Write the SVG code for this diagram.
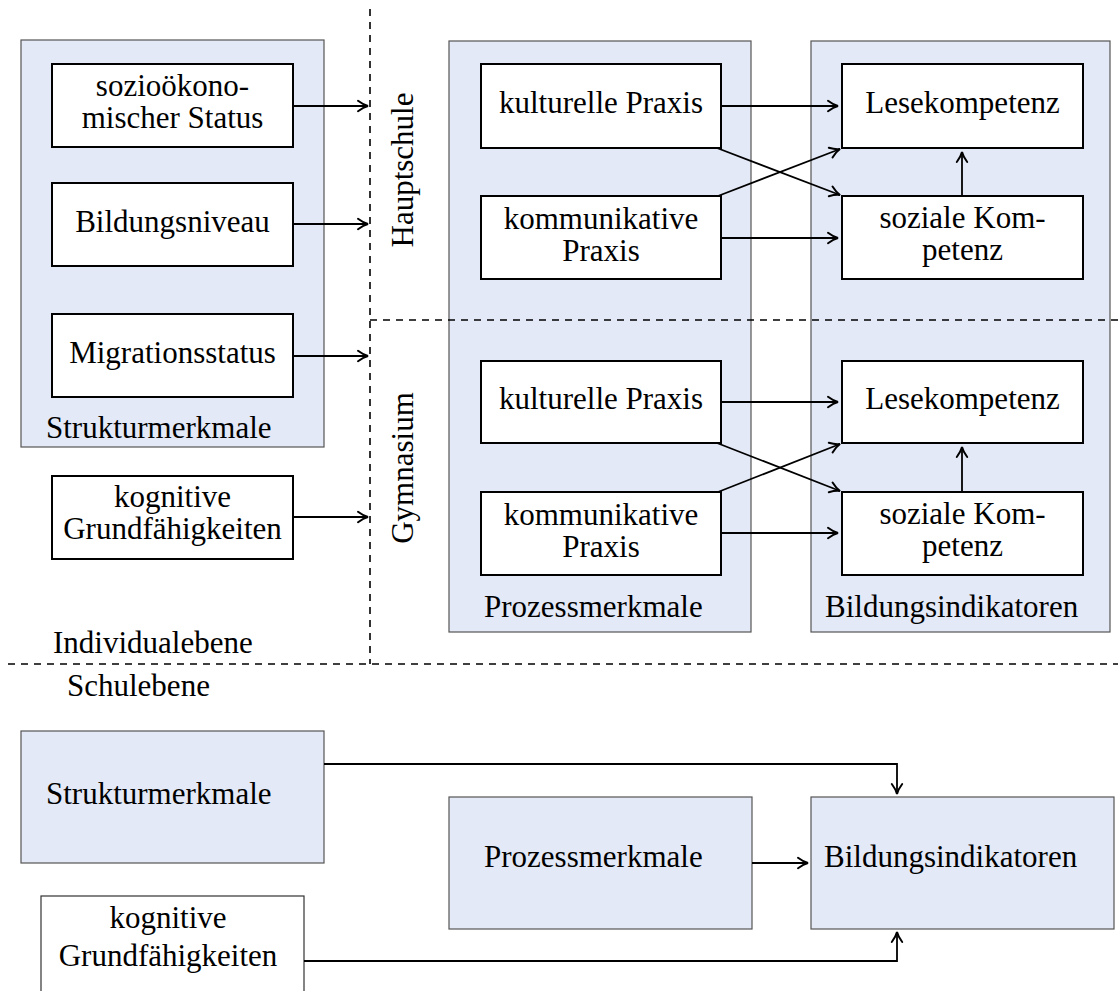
<svg xmlns="http://www.w3.org/2000/svg" width="1118" height="991" viewBox="0 0 1118 991">
  <style>
    text { font-family: "Liberation Serif", "Times New Roman", serif; font-size: 31px; fill: #000; }
    .mid { text-anchor: middle; }
    .group { fill: #E4E9F7; stroke: #555; stroke-width: 1.2; }
    .item { fill: #fff; stroke: #000; stroke-width: 2; }
    .edge { fill: none; stroke: #000; stroke-width: 1.8; marker-end: url(#tip); }
    .sep { fill: none; stroke: #000; stroke-width: 1.6; stroke-dasharray: 7 6; }
  </style>
  <defs>
    <marker id="tip" markerUnits="userSpaceOnUse" markerWidth="16" markerHeight="14" viewBox="-12 -7 14 14" refX="0" refY="0" orient="auto">
      <path d="M-10,-5.2 C-6,-2.2 -2.5,-0.6 0,0 C-2.5,0.6 -6,2.2 -10,5.2" fill="none" stroke="#000" stroke-width="2" stroke-linecap="round"/>
    </marker>
  </defs>

  <!-- individual level: group frames -->
  <g id="struktur-ind">
    <rect class="group" x="21" y="40" width="303" height="407"/>
    <text x="46" y="438">Strukturmerkmale</text>
  </g>
  <g id="prozess-ind">
    <rect class="group" x="449" y="41" width="302" height="591"/>
    <text x="484" y="617">Prozessmerkmale</text>
  </g>
  <g id="bildung-ind">
    <rect class="group" x="811" y="41" width="299" height="591"/>
    <text x="825" y="617">Bildungsindikatoren</text>
  </g>

  <!-- level separators, drawn over the frames -->
  <g id="separators">
    <line class="sep" x1="370" y1="9" x2="370" y2="664"/>
    <line class="sep" x1="370" y1="320" x2="1118" y2="320"/>
    <line class="sep" x1="8" y1="664" x2="1118" y2="664"/>
  </g>

  <!-- individual level: structural items -->
  <g id="sozio">
    <rect class="item" x="52" y="64" width="241" height="83"/>
    <text class="mid" x="172.5" y="96">sozioökono-</text>
    <text class="mid" x="172.5" y="128">mischer Status</text>
  </g>
  <g id="bildungsniveau">
    <rect class="item" x="52" y="183" width="241" height="83"/>
    <text class="mid" x="172.5" y="232">Bildungsniveau</text>
  </g>
  <g id="migration">
    <rect class="item" x="52" y="314" width="241" height="83"/>
    <text class="mid" x="172.5" y="363">Migrationsstatus</text>
  </g>
  <g id="kognitiv-ind">
    <rect class="item" x="52" y="476" width="241" height="83"/>
    <text class="mid" x="172.5" y="507">kognitive</text>
    <text class="mid" x="172.5" y="539">Grundfähigkeiten</text>
  </g>

  <!-- school type labels -->
  <g id="hauptschule">
    <text class="mid" transform="translate(413,170) rotate(-90)">Hauptschule</text>
  </g>
  <g id="gymnasium">
    <text class="mid" transform="translate(413,468) rotate(-90)">Gymnasium</text>
  </g>

  <!-- Hauptschule items -->
  <g id="kultur-h">
    <rect class="item" x="481" y="64" width="240" height="84"/>
    <text class="mid" x="601" y="113">kulturelle Praxis</text>
  </g>
  <g id="komm-h">
    <rect class="item" x="481" y="196" width="240" height="83"/>
    <text class="mid" x="601" y="229">kommunikative</text>
    <text class="mid" x="601" y="261">Praxis</text>
  </g>
  <g id="lese-h">
    <rect class="item" x="842" y="64" width="241" height="84"/>
    <text class="mid" x="962.5" y="113">Lesekompetenz</text>
  </g>
  <g id="sozial-h">
    <rect class="item" x="842" y="196" width="241" height="83"/>
    <text class="mid" x="962.5" y="228">soziale Kom-</text>
    <text class="mid" x="962.5" y="260">petenz</text>
  </g>

  <!-- Gymnasium items -->
  <g id="kultur-g">
    <rect class="item" x="481" y="361" width="240" height="82"/>
    <text class="mid" x="601" y="409">kulturelle Praxis</text>
  </g>
  <g id="komm-g">
    <rect class="item" x="481" y="492" width="240" height="83"/>
    <text class="mid" x="601" y="525">kommunikative</text>
    <text class="mid" x="601" y="557">Praxis</text>
  </g>
  <g id="lese-g">
    <rect class="item" x="842" y="361" width="241" height="82"/>
    <text class="mid" x="962.5" y="409">Lesekompetenz</text>
  </g>
  <g id="sozial-g">
    <rect class="item" x="842" y="492" width="241" height="83"/>
    <text class="mid" x="962.5" y="524">soziale Kom-</text>
    <text class="mid" x="962.5" y="556">petenz</text>
  </g>

  <!-- level labels -->
  <g id="level-labels">
    <text x="53" y="653">Individualebene</text>
    <text x="67" y="696">Schulebene</text>
  </g>

  <!-- school level -->
  <g id="struktur-sch">
    <rect class="group" x="21" y="731" width="303" height="132"/>
    <text x="46" y="804">Strukturmerkmale</text>
  </g>
  <g id="prozess-sch">
    <rect class="group" x="449" y="797" width="303" height="132"/>
    <text x="484" y="867">Prozessmerkmale</text>
  </g>
  <g id="bildung-sch">
    <rect class="group" x="811" y="797" width="303" height="132"/>
    <text x="824" y="867">Bildungsindikatoren</text>
  </g>
  <g id="kognitiv-sch">
    <rect fill="#fff" stroke="#333" stroke-width="1.2" x="41" y="896" width="263" height="132"/>
    <text class="mid" x="168" y="928">kognitive</text>
    <text class="mid" x="168" y="966">Grundfähigkeiten</text>
  </g>

  <!-- connectors -->
  <g id="connectors">
    <line class="edge" x1="293" y1="106" x2="368" y2="106"/>
    <line class="edge" x1="293" y1="224" x2="368" y2="224"/>
    <line class="edge" x1="293" y1="356" x2="368" y2="356"/>
    <line class="edge" x1="293" y1="517" x2="368" y2="517"/>

    <line class="edge" x1="721" y1="106" x2="838" y2="106"/>
    <line class="edge" x1="721" y1="238" x2="838" y2="238"/>
    <line class="edge" x1="717" y1="148" x2="840" y2="195"/>
    <line class="edge" x1="718" y1="196" x2="840" y2="149"/>
    <line class="edge" x1="962" y1="196" x2="962" y2="152"/>

    <line class="edge" x1="721" y1="402" x2="838" y2="402"/>
    <line class="edge" x1="721" y1="533" x2="838" y2="533"/>
    <line class="edge" x1="717" y1="443" x2="840" y2="491"/>
    <line class="edge" x1="718" y1="492" x2="840" y2="444"/>
    <line class="edge" x1="962" y1="492" x2="962" y2="447"/>

    <polyline class="edge" points="324,764 897,764 897,794"/>
    <line class="edge" x1="752" y1="863" x2="808" y2="863"/>
    <polyline class="edge" points="304,961 897,961 897,932"/>
  </g>
</svg>
